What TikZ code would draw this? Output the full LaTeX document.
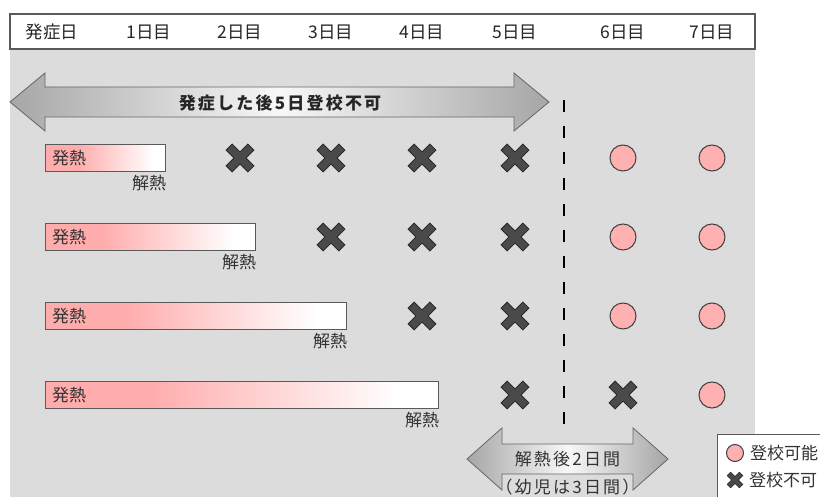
\documentclass[tikz,border=0pt]{standalone}
\usepackage{fontspec}
\setmainfont{Noto Sans CJK JP}
\newfontfamily\jpwide[LetterSpace=13]{Noto Sans CJK JP}
\usetikzlibrary{positioning}

\definecolor{bggray}{HTML}{DCDCDC}
\definecolor{framegray}{HTML}{5A5A5A}
\definecolor{barpink}{HTML}{FFACAC}
\definecolor{dotpink}{HTML}{FFB0B0}
\definecolor{crossgray}{HTML}{4A4A4A}
\definecolor{arrowgray}{HTML}{A6A6A6}

\pgfdeclarehorizontalshading{feverfade}{100bp}{color(0bp)=(barpink); color(25bp)=(barpink); color(38bp)=(barpink); color(70bp)=(white); color(100bp)=(white)}
\pgfdeclarehorizontalshading{spanfade}{100bp}{color(0bp)=(arrowgray); color(25bp)=(arrowgray); color(50bp)=(white!92!arrowgray); color(75bp)=(arrowgray); color(100bp)=(arrowgray)}

\tikzset{
    daylabel/.style={font=\fontsize{17.5}{20}\selectfont, text=black!85},
    bartext/.style={font=\fontsize{17}{20}\selectfont, text=black!80, inner sep=0pt},
    feverbar/.style={draw=framegray, line width=1.2pt, shading=feverfade, minimum height=27pt, inner sep=0pt, anchor=west},
    okdot/.style={circle, draw=black!75, line width=1pt, fill=dotpink, minimum size=26pt, inner sep=0pt},
    spanline/.style={draw=black!60, line width=0.8pt, shading=spanfade},
    nogo/.pic={
        \draw[line width=9.5pt, draw=black!85] (-11.2,-11.2)--(11.2,11.2) (-11.2,11.2)--(11.2,-11.2);
        \draw[line width=7.5pt, draw=crossgray] (-10.5,-10.5)--(10.5,10.5) (-10.5,10.5)--(10.5,-10.5);
    },
    nogokey/.pic={
        \draw[line width=5.5pt, draw=black!85] (-6.3,-6.3)--(6.3,6.3) (-6.3,6.3)--(6.3,-6.3);
        \draw[line width=4pt, draw=crossgray] (-5.8,-5.8)--(5.8,5.8) (-5.8,5.8)--(5.8,-5.8);
    }
}

\begin{document}
\begin{tikzpicture}[x=1pt, y=-1pt]
    \useasboundingbox (0,0) rectangle (820,497);
    \clip (0,0) rectangle (820,497);

    % header and field
    \fill[bggray] (10,49) rectangle (755,510);
    \draw[draw=framegray, line width=1.2pt, fill=white] (10,14) rectangle (755,49);
    \node[daylabel] (d0) at (52,32) {発症日};
    \node[daylabel] (d1) at (149,32) {1日目};
    \node[daylabel] (d2) at (240,32) {2日目};
    \node[daylabel] (d3) at (331,32) {3日目};
    \node[daylabel] (d4) at (422,32) {4日目};
    \node[daylabel] (d5) at (515,32) {5日目};
    \node[daylabel] (d6) at (623,32) {6日目};
    \node[daylabel] (d7) at (712,32) {7日目};

    % five days arrow
    \shadedraw[spanline] (10,102) -- (45,73) -- (45,87) -- (514,87) -- (514,73) -- (549,102) -- (514,131) -- (514,117) -- (45,117) -- (45,131) -- cycle;
    \node[font=\jpwide\bfseries\fontsize{17}{20}\selectfont, text=black!85] (span) at (280,103) {発症した後5日登校不可};

    % cut line
    \coordinate (cuttop) at (564,100);
    \coordinate (cutbot) at (564,424);
    \draw[line width=2pt, dash pattern=on 12pt off 14pt] (cuttop) -- (cutbot);

    % row 1
    \node[feverbar, minimum width=120pt] (bar1) at (45,158) {};
    \node[bartext, right=7pt of bar1.west] (hot1) {発熱};
    \node[bartext, anchor=north east] (cool1) at ([yshift=-3pt]bar1.south east) {解熱};
    \pic at (240,158) {nogo};
    \pic at (331,158) {nogo};
    \pic at (422,158) {nogo};
    \pic at (515,158) {nogo};
    \node[okdot] (ok16) at (623,158) {};
    \node[okdot] (ok17) at (712,158) {};

    % row 2
    \node[feverbar, minimum width=210pt] (bar2) at (45,237) {};
    \node[bartext, right=7pt of bar2.west] (hot2) {発熱};
    \node[bartext, anchor=north east] (cool2) at ([yshift=-3pt]bar2.south east) {解熱};
    \pic at (331,237) {nogo};
    \pic at (422,237) {nogo};
    \pic at (515,237) {nogo};
    \node[okdot] (ok26) at (623,237) {};
    \node[okdot] (ok27) at (712,237) {};

    % row 3
    \node[feverbar, minimum width=301pt] (bar3) at (45,316) {};
    \node[bartext, right=7pt of bar3.west] (hot3) {発熱};
    \node[bartext, anchor=north east] (cool3) at ([yshift=-3pt]bar3.south east) {解熱};
    \pic at (422,316) {nogo};
    \pic at (515,316) {nogo};
    \node[okdot] (ok36) at (623,316) {};
    \node[okdot] (ok37) at (712,316) {};

    % row 4
    \node[feverbar, minimum width=393pt] (bar4) at (45,395) {};
    \node[bartext, right=7pt of bar4.west] (hot4) {発熱};
    \node[bartext, anchor=north east] (cool4) at ([yshift=-3pt]bar4.south east) {解熱};
    \pic at (515,395) {nogo};
    \pic at (623,395) {nogo};
    \node[okdot] (ok47) at (712,395) {};

    % two days arrow
    \shadedraw[spanline] (467,459) -- (502,428) -- (502,444) -- (633,444) -- (633,428) -- (668,459) -- (633,490) -- (633,474) -- (502,474) -- (502,490) -- cycle;
    \node[align=center, font=\jpwide\fontsize{17}{28}\selectfont, text=black!80] (heal) at (567.5,473) {解熱後2日間\\（幼児は3日間）};

    % legend
    \draw[draw=framegray, line width=1pt, fill=white] (717,434) rectangle (830,510);
    \node[okdot, minimum size=17pt] (keyok) at (735,453) {};
    \node[bartext, right=6pt of keyok] (keyoktext) {登校可能};
    \pic at (735,480) {nogokey};
    \coordinate (keyno) at (743,480);
    \node[bartext, right=6pt of keyno] (keynotext) {登校不可};
\end{tikzpicture}
\end{document}
